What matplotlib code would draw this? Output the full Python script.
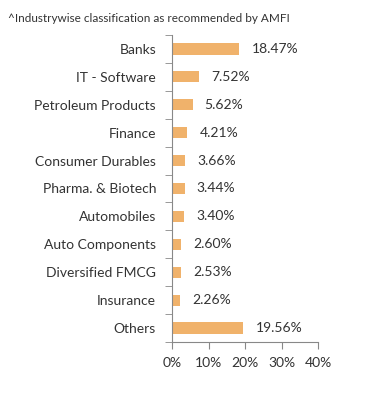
import matplotlib.pyplot as plt
import numpy as np

categories = ["Banks", "IT - Software", "Petroleum Products", "Finance", "Consumer Durables",
              "Pharma. & Biotech", "Automobiles", "Auto Components", "Diversified FMCG",
              "Insurance", "Others"]
values = [18.47, 7.52, 5.62, 4.21, 3.66, 3.44, 3.40, 2.60, 2.53, 2.26, 19.56]
xticks = [0, 10, 20, 30, 40]

plt.rcParams['font.family'] = ['Lato', 'DejaVu Sans']
txt = '#333333'

fig = plt.figure(figsize=(3.91, 3.95), dpi=100)
ax = fig.add_axes([172/391, 1 - 342/395, 146/391, 307/395])

y = np.arange(len(categories))
ax.barh(y, values, height=0.4, color='#F0B26B')
ax.set_ylim(len(categories) - 0.5, -0.5)
ax.set_xlim(0, 40)

ax.set_yticks(y)
ax.set_yticklabels(categories, fontsize=10, color=txt)
ax.tick_params(axis='y', which='major', length=0, pad=11.5)
ax.set_yticks(np.arange(-0.5, len(categories), 1), minor=True)
ax.tick_params(axis='y', which='minor', length=5, color='#888888')

ax.set_xticks(xticks)
ax.set_xticklabels([f"{t}%" for t in xticks], fontsize=10, color=txt)
ax.tick_params(axis='x', length=5, color='#888888', pad=6)

for s in ['top', 'right']:
    ax.spines[s].set_visible(False)
for s in ['left', 'bottom']:
    ax.spines[s].set_color('#888888')

for yi, v in zip(y, values):
    ax.text(v + 3.3, yi, f"{v:.2f}%", va='center', ha='left', fontsize=10, color=txt)

fig.text(8/391, 1 - 18/395, "^Industrywise classification as recommended by AMFI",
         fontsize=8.5, color=txt, va='center', ha='left')

fig.savefig('out.png', dpi=100)
